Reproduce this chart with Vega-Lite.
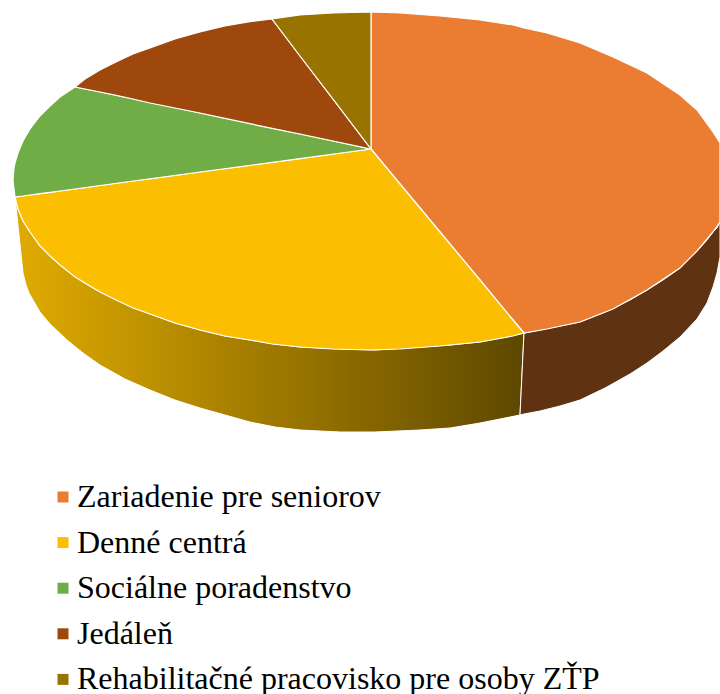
{
"$schema":"https://vega.github.io/schema/vega-lite/v6.json",
"width":720,"height":694,"padding":0,"autosize":{"type":"none"},
"background":"white",
"config":{"view":{"stroke":null}},
"datasets":{
"walls":[
{"slice":"Y","x":15,"top":197,"bottom":197},
{"slice":"Y","x":18,"top":209,"bottom":225.5},
{"slice":"Y","x":23,"top":221,"bottom":273},
{"slice":"Y","x":26,"top":226,"bottom":285},
{"slice":"Y","x":29,"top":231,"bottom":293},
{"slice":"Y","x":33,"top":235,"bottom":300},
{"slice":"Y","x":40,"top":246,"bottom":312},
{"slice":"Y","x":50,"top":256,"bottom":324},
{"slice":"Y","x":67,"top":270,"bottom":340},
{"slice":"Y","x":83,"top":282,"bottom":353},
{"slice":"Y","x":100,"top":292,"bottom":365},
{"slice":"Y","x":125,"top":303,"bottom":379},
{"slice":"Y","x":150,"top":314,"bottom":390},
{"slice":"Y","x":175,"top":323,"bottom":400},
{"slice":"Y","x":200,"top":330,"bottom":408},
{"slice":"Y","x":225,"top":336,"bottom":415},
{"slice":"Y","x":250,"top":340,"bottom":422},
{"slice":"Y","x":275,"top":344,"bottom":427},
{"slice":"Y","x":300,"top":347,"bottom":430},
{"slice":"Y","x":340,"top":349,"bottom":432},
{"slice":"Y","x":375,"top":350,"bottom":432},
{"slice":"Y","x":420,"top":347,"bottom":430},
{"slice":"Y","x":450,"top":345,"bottom":428},
{"slice":"Y","x":480,"top":342,"bottom":423},
{"slice":"Y","x":500,"top":338,"bottom":419},
{"slice":"Y","x":520,"top":334,"bottom":415},
{"slice":"Y","x":524,"top":333,"bottom":333},
{"slice":"O","x":520,"top":415,"bottom":415},
{"slice":"O","x":524,"top":333,"bottom":414},
{"slice":"O","x":540,"top":330,"bottom":411},
{"slice":"O","x":560,"top":326,"bottom":406},
{"slice":"O","x":580,"top":322,"bottom":400},
{"slice":"O","x":605,"top":312,"bottom":388},
{"slice":"O","x":630,"top":300,"bottom":374},
{"slice":"O","x":647,"top":290,"bottom":363},
{"slice":"O","x":663,"top":280,"bottom":351},
{"slice":"O","x":680,"top":268,"bottom":337},
{"slice":"O","x":697,"top":251,"bottom":319},
{"slice":"O","x":707,"top":240,"bottom":303},
{"slice":"O","x":713,"top":232,"bottom":287},
{"slice":"O","x":717,"top":228,"bottom":273},
{"slice":"O","x":720,"top":222,"bottom":257}
],
"slices":[
{"slice":"Zariadenie pre seniorov","x":371,"top":12,"bottom":149},
{"slice":"Zariadenie pre seniorov","x":400,"top":13,"bottom":184},
{"slice":"Zariadenie pre seniorov","x":440,"top":16,"bottom":232},
{"slice":"Zariadenie pre seniorov","x":480,"top":20,"bottom":280},
{"slice":"Zariadenie pre seniorov","x":513,"top":25,"bottom":320},
{"slice":"Zariadenie pre seniorov","x":524,"top":28,"bottom":333},
{"slice":"Zariadenie pre seniorov","x":547,"top":33,"bottom":329},
{"slice":"Zariadenie pre seniorov","x":580,"top":43,"bottom":322},
{"slice":"Zariadenie pre seniorov","x":613,"top":57,"bottom":309},
{"slice":"Zariadenie pre seniorov","x":647,"top":73,"bottom":290},
{"slice":"Zariadenie pre seniorov","x":680,"top":95,"bottom":268},
{"slice":"Zariadenie pre seniorov","x":697,"top":110,"bottom":251},
{"slice":"Zariadenie pre seniorov","x":713,"top":132,"bottom":232},
{"slice":"Zariadenie pre seniorov","x":720,"top":143,"bottom":222},
{"slice":"Denné centrá","x":15,"top":197,"bottom":197},
{"slice":"Denné centrá","x":18,"top":196.6,"bottom":209},
{"slice":"Denné centrá","x":23,"top":196,"bottom":221},
{"slice":"Denné centrá","x":30,"top":195,"bottom":232},
{"slice":"Denné centrá","x":40,"top":193.6,"bottom":246},
{"slice":"Denné centrá","x":50,"top":192.3,"bottom":256},
{"slice":"Denné centrá","x":60,"top":191,"bottom":265},
{"slice":"Denné centrá","x":75,"top":189,"bottom":277},
{"slice":"Denné centrá","x":85,"top":187.6,"bottom":283},
{"slice":"Denné centrá","x":100,"top":185.5,"bottom":292},
{"slice":"Denné centrá","x":115,"top":183.5,"bottom":299.5},
{"slice":"Denné centrá","x":133,"top":181,"bottom":308},
{"slice":"Denné centrá","x":150,"top":179,"bottom":314},
{"slice":"Denné centrá","x":175,"top":175.4,"bottom":323},
{"slice":"Denné centrá","x":200,"top":172,"bottom":330},
{"slice":"Denné centrá","x":225,"top":168.7,"bottom":336},
{"slice":"Denné centrá","x":250,"top":165.3,"bottom":340},
{"slice":"Denné centrá","x":272,"top":162.4,"bottom":344},
{"slice":"Denné centrá","x":300,"top":158.6,"bottom":347},
{"slice":"Denné centrá","x":333,"top":154,"bottom":349},
{"slice":"Denné centrá","x":371,"top":149,"bottom":350},
{"slice":"Denné centrá","x":400,"top":184,"bottom":349},
{"slice":"Denné centrá","x":440,"top":232,"bottom":346},
{"slice":"Denné centrá","x":480,"top":280,"bottom":342},
{"slice":"Denné centrá","x":513,"top":320,"bottom":336},
{"slice":"Denné centrá","x":524,"top":333,"bottom":333},
{"slice":"Sociálne poradenstvo","x":13,"top":181,"bottom":181},
{"slice":"Sociálne poradenstvo","x":14,"top":168,"bottom":189},
{"slice":"Sociálne poradenstvo","x":15,"top":163,"bottom":197},
{"slice":"Sociálne poradenstvo","x":18,"top":153,"bottom":196.6},
{"slice":"Sociálne poradenstvo","x":23,"top":141,"bottom":196},
{"slice":"Sociálne poradenstvo","x":30,"top":129,"bottom":195},
{"slice":"Sociálne poradenstvo","x":40,"top":116,"bottom":193.6},
{"slice":"Sociálne poradenstvo","x":50,"top":106,"bottom":192.3},
{"slice":"Sociálne poradenstvo","x":60,"top":97,"bottom":191},
{"slice":"Sociálne poradenstvo","x":75,"top":87,"bottom":189},
{"slice":"Sociálne poradenstvo","x":100,"top":92,"bottom":185.5},
{"slice":"Sociálne poradenstvo","x":200,"top":113,"bottom":172},
{"slice":"Sociálne poradenstvo","x":300,"top":134,"bottom":158.6},
{"slice":"Sociálne poradenstvo","x":371,"top":149,"bottom":149},
{"slice":"Jedáleň","x":75,"top":87,"bottom":87},
{"slice":"Jedáleň","x":85,"top":79,"bottom":89},
{"slice":"Jedáleň","x":100,"top":70,"bottom":92},
{"slice":"Jedáleň","x":115,"top":62.5,"bottom":95},
{"slice":"Jedáleň","x":133,"top":54,"bottom":99},
{"slice":"Jedáleň","x":150,"top":48,"bottom":103},
{"slice":"Jedáleň","x":175,"top":39,"bottom":108},
{"slice":"Jedáleň","x":200,"top":32,"bottom":113},
{"slice":"Jedáleň","x":225,"top":26,"bottom":118.4},
{"slice":"Jedáleň","x":250,"top":21.6,"bottom":123.7},
{"slice":"Jedáleň","x":272,"top":19,"bottom":128.3},
{"slice":"Jedáleň","x":300,"top":56,"bottom":134},
{"slice":"Jedáleň","x":371,"top":149,"bottom":149},
{"slice":"Rehabilitačné pracovisko pre osoby ZŤP","x":272,"top":19,"bottom":19},
{"slice":"Rehabilitačné pracovisko pre osoby ZŤP","x":300,"top":15,"bottom":56},
{"slice":"Rehabilitačné pracovisko pre osoby ZŤP","x":333,"top":13,"bottom":99},
{"slice":"Rehabilitačné pracovisko pre osoby ZŤP","x":371,"top":12,"bottom":149}
]},
"encoding":{
"x":{"field":"x","type":"quantitative","scale":{"domain":[0,720],"nice":false,"zero":false},"axis":null},
"y":{"field":"top","type":"quantitative","scale":{"domain":[0,694],"nice":false,"zero":false,"reverse":true},"axis":null},
"y2":{"field":"bottom"}
},
"layer":[
{"data":{"name":"walls"},"transform":[{"filter":"datum.slice==='Y'"}],
"mark":{"type":"area","orient":"vertical","stroke":"white","strokeWidth":1,"fill":{"gradient":"linear","x1":0,"y1":0,"x2":1,"y2":0,"stops":[{"offset":0,"color":"#E0AB00"},{"offset":1,"color":"#5E4800"}]}}},
{"data":{"name":"walls"},"transform":[{"filter":"datum.slice==='O'"}],
"mark":{"type":"area","orient":"vertical","stroke":"white","strokeWidth":1,"fill":"#5F3212"}},
{"data":{"name":"slices"},
"mark":{"type":"area","orient":"vertical","stroke":"white","strokeWidth":1.2},
"encoding":{"fill":{"field":"slice","type":"nominal","scale":{"domain":["Zariadenie pre seniorov","Denné centrá","Sociálne poradenstvo","Jedáleň","Rehabilitačné pracovisko pre osoby ZŤP"],"range":["#EB7D32","#FBBE00","#70AD47","#9E480E","#997300"]},
"legend":{"title":null,"orient":"none","legendX":47,"legendY":481,"symbolType":"square","symbolSize":121,"symbolStrokeWidth":0,"labelFont":"Liberation Serif","labelFontSize":32,"labelColor":"#000000","labelLimit":700,"rowPadding":13.6,"labelOffset":-2,"padding":0,"offset":0}}}}
]
}
